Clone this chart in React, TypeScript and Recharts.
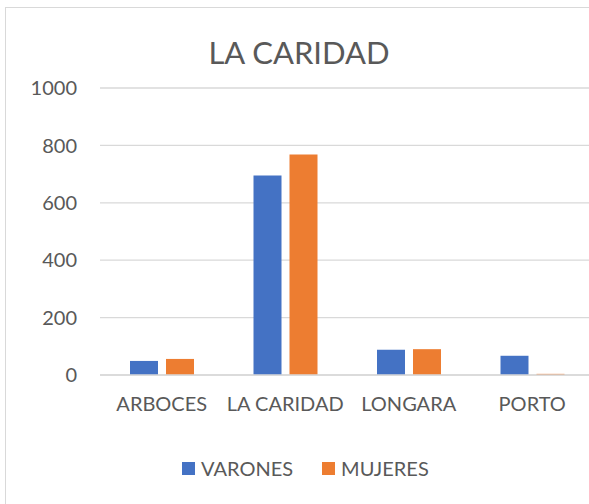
import { Bar, BarChart, CartesianGrid, XAxis, YAxis } from "recharts";

const categories = ["ARBOCES", "LA CARIDAD", "LONGARA", "PORTO"];
const varones = [49, 695, 88, 67];
const mujeres = [56, 768, 90, 4];
const yTicks = [0, 200, 400, 600, 800, 1000];

const BLUE = "#4472C4";
const ORANGE = "#ED7D31";
const TEXT = "#595959";
const FONT = "Lato, 'Noto Sans', sans-serif";

const data = categories.map((name, i) => ({ name, varones: varones[i], mujeres: mujeres[i] }));

const legendItems = [
  { label: "VARONES", color: BLUE },
  { label: "MUJERES", color: ORANGE }
];

export default function App() {
  return (
    <div style={{ position: "absolute", left: 0, top: 0, width: 589, height: 504, overflow: "hidden", background: "#fff" }}>
      <div
        style={{
          position: "absolute",
          left: 5,
          top: 7,
          width: 584,
          height: 520,
          border: "1.5px solid #d9d9d9"
        }}
      />
      <div
        style={{
          position: "absolute",
          left: 6,
          width: 586,
          top: 33,
          textAlign: "center",
          fontFamily: FONT,
          fontSize: 31,
          color: TEXT
        }}
      >
        LA CARIDAD
      </div>
      <div style={{ position: "absolute", left: 0, top: 0 }}>
        <BarChart
          width={600}
          height={504}
          data={data}
          margin={{ top: 88, right: 6, bottom: 89, left: 0 }}
          barCategoryGap={30}
          barGap={8}
        >
          <CartesianGrid vertical={false} stroke="#d9d9d9" strokeWidth={1.3} />
          <XAxis
            dataKey="name"
            height={40}
            tickSize={0}
            tickMargin={22}
            axisLine={{ stroke: "#d9d9d9", strokeWidth: 1.5 }}
            tick={{ fill: TEXT, fontSize: 20, fontFamily: FONT }}
            interval={0}
          />
          <YAxis
            width={100}
            domain={[0, 1000]}
            ticks={yTicks}
            tickSize={0}
            tickMargin={23}
            axisLine={false}
            tick={{ fill: TEXT, fontSize: 20, fontFamily: FONT }}
          />
          <Bar dataKey="varones" name="VARONES" fill={BLUE} isAnimationActive={false} />
          <Bar dataKey="mujeres" name="MUJERES" fill={ORANGE} isAnimationActive={false} />
        </BarChart>
      </div>
      <div
        style={{
          position: "absolute",
          left: 182,
          top: 456,
          display: "flex",
          gap: 29,
          fontFamily: FONT,
          fontSize: 20,
          color: TEXT
        }}
      >
        {legendItems.map((it) => (
          <div key={it.label} style={{ display: "flex", alignItems: "center", gap: 6 }}>
            <span style={{ width: 13, height: 13, background: it.color, display: "inline-block" }} />
            <span>{it.label}</span>
          </div>
        ))}
      </div>
    </div>
  );
}
